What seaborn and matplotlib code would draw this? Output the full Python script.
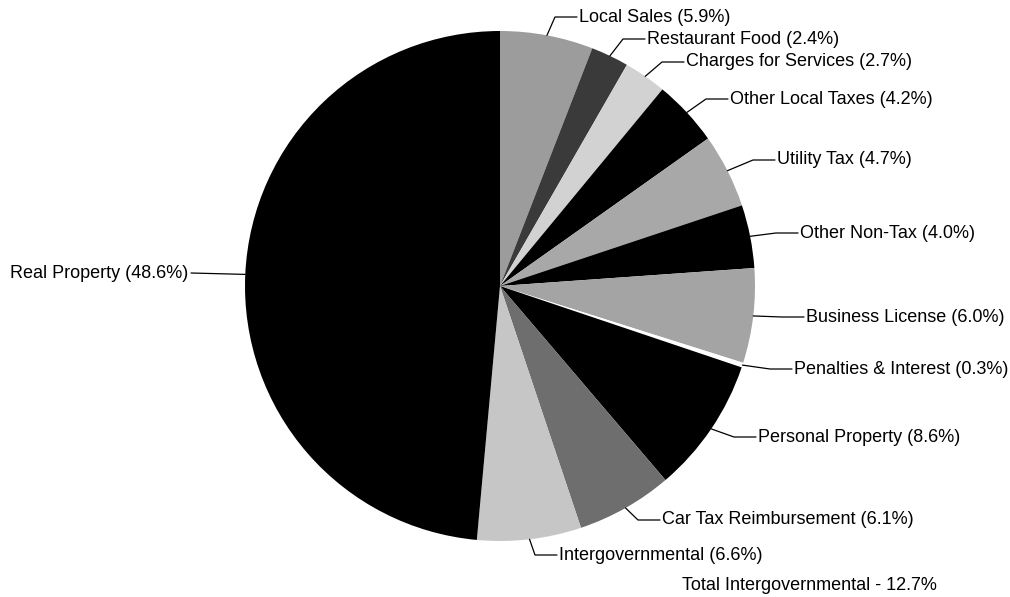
import numpy as np
import matplotlib
matplotlib.use("Agg")
import matplotlib.pyplot as plt
import seaborn as sns

# data (clockwise from 12 o'clock)
categories = ["Local Sales", "Restaurant Food", "Charges for Services", "Other Local Taxes",
              "Utility Tax", "Other Non-Tax", "Business License", "Penalties & Interest",
              "Personal Property", "Car Tax Reimbursement", "Intergovernmental", "Real Property"]
shares = [5.9, 2.4, 2.7, 4.2, 4.7, 4.0, 6.0, 0.3, 8.6, 6.1, 6.6, 48.6]
footnote = "Total Intergovernmental - 12.7%"

# styling / layout (pixels, y measured from the top of the image)
W, H = 1010, 597
greys = ["#9c9c9c", "#3a3a3a", "#d2d2d2", "#000000", "#a8a8a8", "#000000",
         "#a4a4a4", "#ffffff", "#000000", "#6e6e6e", "#c6c6c6", "#000000"]
label_pos = [(579, 17), (647, 39), (686, 62), (730, 99), (777, 160), (800, 233),
             (806, 317), (794, 369), (758, 437), (662, 520), (559, 555), (188, 273)]
center_px = (500, 286)
radius_px = 255

sns.set_theme(style="white")
plt.rcParams['font.family'] = ['Liberation Sans', 'DejaVu Sans']

fig = plt.figure(figsize=(W / 100, H / 100), dpi=100)
ax = fig.add_axes([0, 0, 1, 1])

cx, cy = center_px[0], H - center_px[1]
wedges, _ = ax.pie(shares, colors=greys, startangle=90, counterclock=False,
                   center=(cx, cy), radius=radius_px,
                   wedgeprops=dict(linewidth=0, antialiased=True))

ax.set_xlim(0, W)
ax.set_ylim(0, H)
ax.set_aspect('auto')
ax.axis('off')

# labels with leader lines from the middle of each wedge's rim
for w, name, val, (tx, ty) in zip(wedges, categories, shares, label_pos):
    mid = np.deg2rad((w.theta1 + w.theta2) / 2)
    ex, ey = cx + radius_px * np.cos(mid), cy + radius_px * np.sin(mid)
    ty_up = H - ty
    text = f"{name} ({val:.1f}%)"
    if tx < cx:
        ax.plot([ex, tx + 3], [ey, ty_up], color="black", lw=0.9)
        ax.text(tx, ty_up, text, ha="right", va="center", fontsize=13, color="black")
    else:
        knee = tx - 24
        ax.plot([ex, knee, tx - 2], [ey, ty_up, ty_up], color="black", lw=0.9)
        ax.text(tx, ty_up, text, ha="left", va="center", fontsize=13, color="black")

ax.text(682, H - 585, footnote, ha="left", va="center", fontsize=13, color="black")

fig.savefig("out.png", dpi=100)
